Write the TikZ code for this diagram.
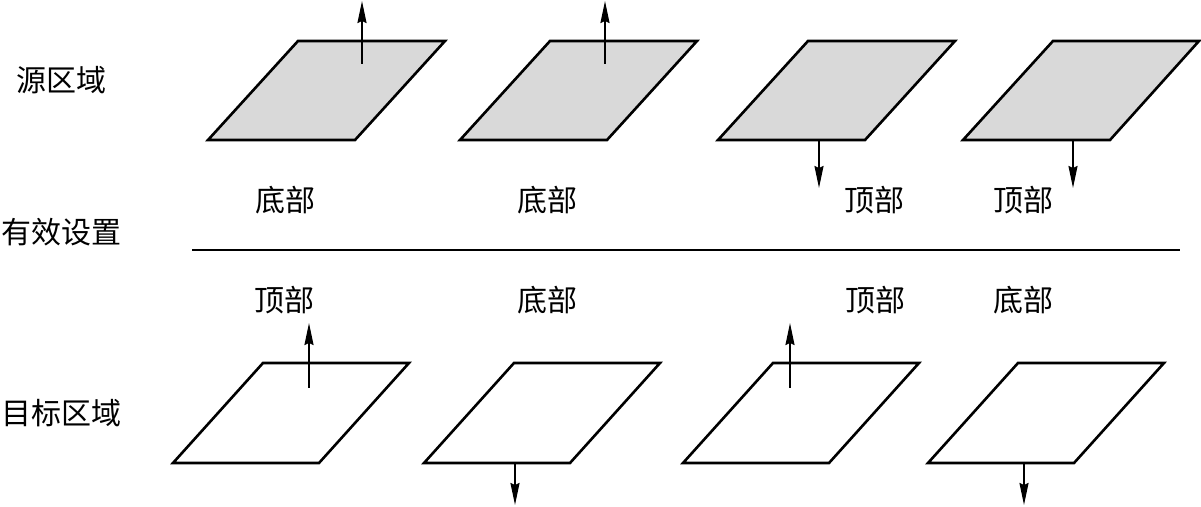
\documentclass[tikz,border=0pt]{standalone}
\usepackage{fontspec}
\newfontfamily\cjk{Noto Sans CJK SC}
\usetikzlibrary{arrows.meta}

\begin{document}
\begin{tikzpicture}[
  x=0.5pt, y=-0.5pt,
  font=\cjk\fontsize{15pt}{18pt}\selectfont,
  src/.style={draw, line width=1.3pt, fill=black!15, line join=miter},
  tgt/.style={draw, line width=1.3pt, fill=white, line join=miter},
  arr/.style={-{Stealth[length=11pt, width=4.5pt, inset=1pt]}, line width=0.9pt},
  lbl/.style={inner sep=0pt, anchor=center}
]
  \useasboundingbox (0,0) rectangle (1201,507);

  % row labels
  \node[lbl] (lsrc) at (62,80) {源区域};
  \node[lbl] (lset) at (62,232) {有效设置};
  \node[lbl] (ltgt) at (62,413) {目标区域};

  % source planes
  \draw[src] (208,140) -- (355,140) -- (445,41) -- (298,41) -- cycle;
  \draw[src] (460,140) -- (607,140) -- (697,41) -- (550,41) -- cycle;
  \draw[src] (718,140) -- (865,140) -- (955,41) -- (808,41) -- cycle;
  \draw[src] (963,140) -- (1110,140) -- (1199,41) -- (1053,41) -- cycle;

  \coordinate (s1a) at (362,64);  \coordinate (s1b) at (362,1);
  \coordinate (s2a) at (605,64);  \coordinate (s2b) at (605,1);
  \coordinate (s3a) at (819,140); \coordinate (s3b) at (819,188);
  \coordinate (s4a) at (1073,140); \coordinate (s4b) at (1073,188);
  \draw[arr] (s1a) -- (s1b);
  \draw[arr] (s2a) -- (s2b);
  \draw[arr] (s3a) -- (s3b);
  \draw[arr] (s4a) -- (s4b);

  \node[lbl] (s1l) at (285,200) {底部};
  \node[lbl] (s2l) at (547,200) {底部};
  \node[lbl] (s3l) at (874,200) {顶部};
  \node[lbl] (s4l) at (1023,200) {顶部};

  % separator
  \coordinate (sepl) at (192,250);
  \coordinate (sepr) at (1180,250);
  \draw[line width=1pt] (sepl) -- (sepr);

  \node[lbl] (t1l) at (284,300) {顶部};
  \node[lbl] (t2l) at (547,300) {底部};
  \node[lbl] (t3l) at (875,300) {顶部};
  \node[lbl] (t4l) at (1023,300) {底部};

  % target planes
  \draw[tgt] (173,463) -- (319,463) -- (409,363) -- (263,363) -- cycle;
  \draw[tgt] (424,463) -- (570,463) -- (660,363) -- (514,363) -- cycle;
  \draw[tgt] (683,463) -- (829,463) -- (919,363) -- (773,363) -- cycle;
  \draw[tgt] (928,463) -- (1074,463) -- (1164,363) -- (1018,363) -- cycle;

  \coordinate (t1a) at (309,388);  \coordinate (t1b) at (309,323);
  \coordinate (t2a) at (515,463);  \coordinate (t2b) at (515,505);
  \coordinate (t3a) at (790,388);  \coordinate (t3b) at (790,323);
  \coordinate (t4a) at (1024,463); \coordinate (t4b) at (1024,505);
  \draw[arr] (t1a) -- (t1b);
  \draw[arr] (t2a) -- (t2b);
  \draw[arr] (t3a) -- (t3b);
  \draw[arr] (t4a) -- (t4b);
\end{tikzpicture}
\end{document}
